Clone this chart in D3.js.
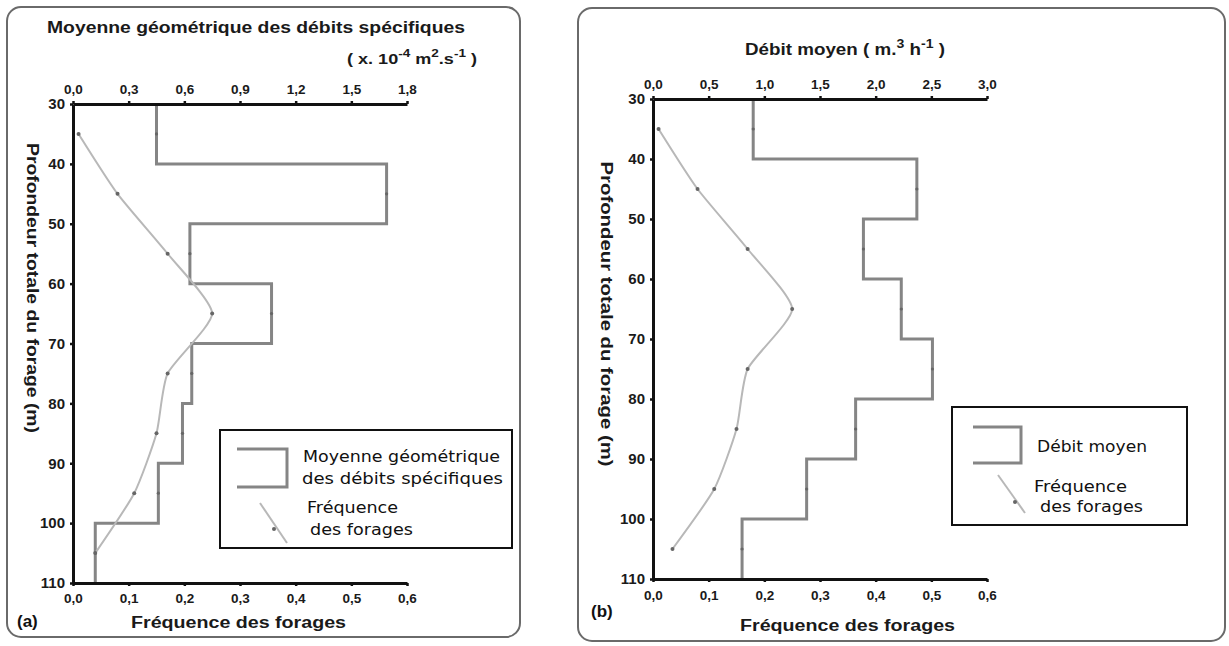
<!DOCTYPE html>
<html><head><meta charset="utf-8">
<script src="https://cdn.jsdelivr.net/npm/d3@7"></script>
<style>body{margin:0;background:#fff}svg{display:block}</style>
</head><body>
<svg id="c" width="1229" height="646"></svg>
<script>
// ---------- data ----------
const depthEdges = [30, 40, 50, 60, 70, 80, 90, 100, 110];
const midDepths = [35, 45, 55, 65, 75, 85, 95, 105];
const depthTicks = [30, 40, 50, 60, 70, 80, 90, 100, 110];
const freqTicks = [0, 0.1, 0.2, 0.3, 0.4, 0.5, 0.6];
// panel (a)
const debitSpecifique = [0.45, 1.69, 0.63, 1.07, 0.64, 0.59, 0.46, 0.12];
const frequenceA = [0.01, 0.08, 0.17, 0.25, 0.17, 0.15, 0.11, 0.04];
const topTicksA = [0, 0.3, 0.6, 0.9, 1.2, 1.5, 1.8];
// panel (b)
const debitMoyen = [0.90, 2.37, 1.89, 2.23, 2.51, 1.82, 1.38, 0.80];
const frequenceB = [0.01, 0.08, 0.17, 0.25, 0.17, 0.15, 0.11, 0.035];
const topTicksB = [0, 0.5, 1.0, 1.5, 2.0, 2.5, 3.0];

const loc = d3.formatLocale({decimal: ",", thousands: " ", grouping: [3], currency: ["", ""]});
const fmt = loc.format(".1f");

const svg = d3.select("#c");
const STEP = "#858585", FREQ = "#b8b8b8", DOT = "#666";
const boldFont = "'Liberation Sans', Arial, sans-serif";
const legFont = "'DejaVu Sans', sans-serif";

function richText(g, spec, size) {
  const t = g.append("text").attr("x", spec.x).attr("y", spec.y)
    .attr("font-family", boldFont).attr("font-weight", "bold").attr("font-size", size).attr("fill", "#1a1a1a");
  if (spec.len) t.attr("textLength", spec.len).attr("lengthAdjust", "spacingAndGlyphs");
  spec.parts.forEach(p => {
    const ts = t.append("tspan").text(p[0]).attr("font-size", p[1] ? size * 0.75 : size);
    if (p[1]) ts.attr("dy", -7); if (p[2]) ts.attr("dy", 7);
  });
}

function panel(cfg) {
  const g = svg.append("g");
  g.append("rect").attr("x", cfg.frame[0]).attr("y", cfg.frame[1])
    .attr("width", cfg.frame[2] - cfg.frame[0]).attr("height", cfg.frame[3] - cfg.frame[1])
    .attr("rx", 14).attr("fill", "none").attr("stroke", "#6a6a6a").attr("stroke-width", 2);

  const y = d3.scaleLinear().domain([30, 110]).range([cfg.yTop, cfg.yBot]);
  const xTop = d3.scaleLinear().domain([0, cfg.topMax]).range([cfg.x0, cfg.x1]);
  const xBot = d3.scaleLinear().domain([0, 0.6]).range([cfg.x0, cfg.x1]);

  // step line (top scale)
  const stepPts = [];
  cfg.step.forEach((v, i) => { stepPts.push([v, depthEdges[i]]); stepPts.push([v, depthEdges[i + 1]]); });
  g.append("path").datum(stepPts)
    .attr("d", d3.line().x(d => xTop(d[0])).y(d => y(d[1])))
    .attr("fill", "none").attr("stroke", STEP).attr("stroke-width", 3);
  g.selectAll(".sm").data(cfg.step).enter().append("circle")
    .attr("cx", d => xTop(d)).attr("cy", (d, i) => y(midDepths[i])).attr("r", 1.6).attr("fill", DOT);

  // frequency curve (bottom scale)
  const fPts = cfg.freq.map((v, i) => [v, midDepths[i]]);
  g.append("path").datum(fPts)
    .attr("d", d3.line().x(d => xBot(d[0])).y(d => y(d[1])).curve(d3.curveCardinal.tension(0.4)))
    .attr("fill", "none").attr("stroke", FREQ).attr("stroke-width", 2);
  g.selectAll(".fm").data(fPts).enter().append("circle")
    .attr("cx", d => xBot(d[0])).attr("cy", d => y(d[1])).attr("r", 2).attr("fill", DOT);

  // axes
  function style(ax, size) {
    ax.select(".domain").attr("stroke", "#111").attr("stroke-width", 3);
    ax.selectAll(".tick line").attr("stroke", "#111").attr("stroke-width", 2.5);
    ax.selectAll(".tick text").attr("font-family", boldFont).attr("font-weight", "bold")
      .attr("font-size", size).attr("fill", "#1a1a1a");
  }
  const at = g.append("g").attr("transform", `translate(0,${cfg.yTop})`)
    .call(d3.axisTop(xTop).tickValues(cfg.topTicks).tickFormat(fmt).tickSize(3).tickSizeOuter(0).tickPadding(7));
  style(at, 13.5);
  const ab = g.append("g").attr("transform", `translate(0,${cfg.yBot})`)
    .call(d3.axisBottom(xBot).tickValues(freqTicks).tickFormat(fmt).tickSize(3).tickSizeOuter(0).tickPadding(cfg.botPad));
  style(ab, 13.5);
  const al = g.append("g").attr("transform", `translate(${cfg.x0},0)`)
    .call(d3.axisLeft(y).tickValues(depthTicks).tickFormat(d3.format("d")).tickSize(3).tickSizeOuter(0).tickPadding(5));
  style(al, 15);

  // titles
  richText(g, cfg.title, 16.5);
  if (cfg.units) richText(g, cfg.units, 15);
  g.append("text").attr("transform", `translate(${cfg.yTitle.x},${cfg.yTitle.y}) rotate(90)`)
    .attr("text-anchor", "middle").attr("font-family", boldFont).attr("font-weight", "bold")
    .attr("font-size", 16).attr("fill", "#1a1a1a").attr("textLength", cfg.yTitle.len)
    .attr("lengthAdjust", "spacingAndGlyphs").text("Profondeur totale du forage (m)");
  g.append("text").attr("x", cfg.xTitle.x).attr("y", cfg.xTitle.y)
    .attr("font-family", boldFont).attr("font-weight", "bold").attr("font-size", 16).attr("fill", "#1a1a1a")
    .attr("textLength", 215).attr("lengthAdjust", "spacingAndGlyphs")
    .text("Fréquence des  forages");
  g.append("text").attr("x", cfg.tag.x).attr("y", cfg.tag.y)
    .attr("font-family", boldFont).attr("font-weight", "bold").attr("font-size", 17).attr("fill", "#111")
    .text(cfg.tag.t);

  // legend
  const L = cfg.legend;
  g.append("rect").attr("x", L.box[0]).attr("y", L.box[1]).attr("width", L.box[2] - L.box[0])
    .attr("height", L.box[3] - L.box[1]).attr("fill", "#fff").attr("stroke", "#111").attr("stroke-width", 2);
  g.append("path").attr("d", `M${L.br[0]},${L.br[1]}H${L.br[2]}V${L.br[3]}H${L.br[0]}`)
    .attr("fill", "none").attr("stroke", STEP).attr("stroke-width", 3);
  g.append("line").attr("x1", L.diag[0]).attr("y1", L.diag[1]).attr("x2", L.diag[2]).attr("y2", L.diag[3])
    .attr("stroke", FREQ).attr("stroke-width", 2);
  g.append("circle").attr("cx", L.dot[0]).attr("cy", L.dot[1]).attr("r", 2).attr("fill", DOT);
  L.lines.forEach(l => {
    g.append("text").attr("x", l[1]).attr("y", l[2]).attr("font-family", legFont)
      .attr("font-size", 15).attr("fill", "#111").attr("textLength", l[3]).attr("lengthAdjust", "spacingAndGlyphs")
      .text(l[0]);
  });
}

panel({
  frame: [7, 7, 520, 637],
  x0: 73, x1: 407, yTop: 104, yBot: 583, botPad: 7,
  topMax: 1.8, topTicks: topTicksA, step: debitSpecifique, freq: frequenceA,
  title: {x: 47, y: 33, len: 418, parts: [["Moyenne géométrique des débits spécifiques"]]},
  units: {x: 347, y: 64, len: 130, parts: [["( x. 10"], ["-4", 1], [" m", 0, 1], ["2", 1], [".s", 0, 1], ["-1", 1], [" )", 0, 1]]},
  yTitle: {x: 27, y: 288, len: 290},
  xTitle: {x: 131, y: 628},
  tag: {x: 17, y: 627, t: "(a)"},
  legend: {
    box: [220, 430, 512, 548], br: [237, 449, 287, 487], diag: [260, 503, 287, 543], dot: [274, 529],
    lines: [["Moyenne géométrique", 303, 462, 197], ["des débits spécifiques", 302, 484, 201],
            ["Fréquence", 307, 513, 91], ["des forages", 310, 535, 103]]
  }
});

panel({
  frame: [578, 8, 1225, 641],
  x0: 653, x1: 987, yTop: 99, yBot: 579, botPad: 8,
  topMax: 3.0, topTicks: topTicksB, step: debitMoyen, freq: frequenceB,
  title: {x: 745, y: 55, len: 200, parts: [["Débit moyen ( m."], ["3", 1], [" h", 0, 1], ["-1", 1], [" )", 0, 1]]},
  units: null,
  yTitle: {x: 601, y: 314, len: 305},
  xTitle: {x: 740, y: 631},
  tag: {x: 591, y: 617, t: "(b)"},
  legend: {
    box: [952, 407, 1187, 525], br: [973, 427, 1021, 463], diag: [998, 475, 1025, 513], dot: [1015, 502],
    lines: [["Débit moyen", 1037, 452, 110], ["Fréquence", 1034, 492, 93], ["des forages", 1040, 512, 103]]
  }
});
</script>
</body></html>
